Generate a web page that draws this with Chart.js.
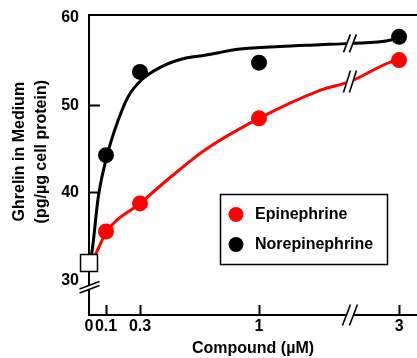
<!DOCTYPE html>
<html><head><meta charset="utf-8">
<script src="https://cdn.jsdelivr.net/npm/chart.js@4/dist/chart.umd.min.js"></script>
<style>html,body{margin:0;padding:0;background:#fff}</style>
</head><body>
<canvas id="c" width="417" height="358"></canvas>
<script>
// ---- data ----
const doses = [0.1, 0.3, 1, 3];                 // µM
const epinephrine = [35.6, 38.8, 48.5, 55.15];
const norepinephrine = [44.3, 53.8, 54.85, 57.8];
const baselineDose = [0];
const baselineValue = [32.0];
const xTickValues = [0, 0.1, 0.3, 1, 3];
const yTickValues = [30, 40, 50, 60];
// fitted curves
const epiFitX = [0, 0.035, 0.104, 0.3, 0.486, 0.682, 1, 1.359, 1.535, 2.8, 3];
const epiFitY = [32.0, 32.9, 35.6, 38.8, 41.9, 44.9, 48.5, 51.7, 52.7, 55.0, 55.15];
const norFitX = [0, 0.016, 0.055, 0.104, 0.172, 0.231, 0.31, 0.428, 0.565, 0.682, 0.888, 1.124, 1.359, 1.535, 2.72, 3];
const norFitY = [32.0, 33.1, 39.6, 44.1, 48.3, 51.0, 52.9, 54.4, 55.35, 55.7, 56.4, 56.7, 56.9, 57.05, 57.4, 57.8];

// ---- broken x axis mapping ----
const X_BREAK = 1.535;
const X_AFTER = 0.1973;
function axisPos(x){ return x <= X_BREAK ? x : X_BREAK + (x - X_BREAK) * X_AFTER; }
const Y_BREAK = 29.25;

const FONT = "'Liberation Sans', Arial, sans-serif";
const RED = '#ff0000';
const pts = (xs, ys) => xs.map((x, i) => ({x: axisPos(x), y: ys[i]}));
const noPad = s => { s.paddingTop = 0; s.paddingBottom = 0; s.paddingLeft = 0; s.paddingRight = 0; };

const breakPlugin = {
  id: 'breaks',
  afterDatasetsDraw(chart) {
    const ctx = chart.ctx, xs = chart.scales.x, ys = chart.scales.y;
    ctx.save();
    ctx.lineCap = 'butt';
    // y axis break
    const x0 = chart.chartArea.left, yc = ys.getPixelForValue(Y_BREAK);
    ctx.fillStyle = '#fff';
    ctx.fillRect(x0 - 2, yc - 2, 4, 4);
    ctx.strokeStyle = '#000'; ctx.lineWidth = 1.6;
    [-2, 2].forEach(k => {
      ctx.beginPath();
      ctx.moveTo(x0 - 9.5, yc + k + 3.75);
      ctx.lineTo(x0 + 10.5, yc + k - 3.75);
      ctx.stroke();
    });
    // x axis break
    const xc = xs.getPixelForValue(X_BREAK), yb = chart.chartArea.bottom;
    ctx.fillStyle = '#fff';
    ctx.fillRect(xc - 3.5, yb - 2, 7, 4);
    [-3.5, 3.5].forEach(k => {
      ctx.beginPath();
      ctx.moveTo(xc + k - 4, yb + 10.5);
      ctx.lineTo(xc + k + 4, yb - 10.5);
      ctx.stroke();
    });
    // curve breaks
    const curveBreak = (yv, h) => {
      const yy = ys.getPixelForValue(yv);
      const w = 3.5, s = 3;
      ctx.fillStyle = '#fff';
      ctx.beginPath();
      ctx.moveTo(xc - s - w * 0.6, yy + h * 0.6);
      ctx.lineTo(xc - s + w * 0.6, yy - h * 0.6);
      ctx.lineTo(xc + s + w * 0.6, yy - h * 0.6);
      ctx.lineTo(xc + s - w * 0.6, yy + h * 0.6);
      ctx.closePath(); ctx.fill();
      ctx.strokeStyle = '#000'; ctx.lineWidth = 1.6;
      [-s, s].forEach(k => {
        ctx.beginPath();
        ctx.moveTo(xc + k - w, yy + h);
        ctx.lineTo(xc + k + w, yy - h);
        ctx.stroke();
      });
    };
    curveBreak(norFitY[norFitX.indexOf(X_BREAK)], 9);
    curveBreak(epiFitY[epiFitX.indexOf(X_BREAK)], 11);
    // legend box
    const bx = 220, by = 194, bw = 168, bh = 71;
    ctx.fillStyle = '#fff'; ctx.fillRect(bx, by, bw, bh);
    ctx.strokeStyle = '#000'; ctx.lineWidth = 1.5;
    ctx.strokeRect(bx + 0.5, by + 0.5, bw - 1, bh - 1);
    const items = [chart.data.datasets[1], chart.data.datasets[2]];
    ctx.font = "bold 16px " + FONT;
    ctx.textBaseline = 'middle'; ctx.textAlign = 'left';
    items.forEach((d, i) => {
      const cy = by + 20.5 + i * 30;
      ctx.fillStyle = d.backgroundColor;
      ctx.beginPath(); ctx.arc(bx + 16, cy, 7.5, 0, Math.PI * 2); ctx.fill();
      ctx.fillStyle = '#000';
      ctx.fillText(d.label, bx + 35, cy + 0.5);
    });
    ctx.restore();
  }
};

new Chart(document.getElementById('c'), {
  type: 'scatter',
  data: {
    datasets: [
      {label: 'Control', data: pts(baselineDose, baselineValue), pointStyle: 'rect', pointRadius: 12,
       backgroundColor: '#fff', borderColor: '#000', borderWidth: 1.5, showLine: false, clip: false},
      {label: 'Epinephrine', data: pts(doses, epinephrine), pointRadius: 8, pointBorderWidth: 0,
       backgroundColor: RED, borderColor: RED, showLine: false, clip: false},
      {label: 'Norepinephrine', data: pts(doses, norepinephrine), pointRadius: 8, pointBorderWidth: 0,
       backgroundColor: '#000', borderColor: '#000', showLine: false, clip: false},
      {label: 'Epinephrine fit', data: pts(epiFitX, epiFitY), showLine: true, pointRadius: 0,
       borderColor: RED, borderWidth: 3, cubicInterpolationMode: 'monotone', clip: false},
      {label: 'Norepinephrine fit', data: pts(norFitX, norFitY), showLine: true, pointRadius: 0,
       borderColor: '#000', borderWidth: 3, cubicInterpolationMode: 'monotone', clip: false}
    ]
  },
  options: {
    responsive: false, animation: false, devicePixelRatio: 1,
    layout: {autoPadding: false, padding: {top: 15, left: 0, right: 0, bottom: 0}},
    plugins: {legend: {display: false}, tooltip: {enabled: false}},
    scales: {
      x: {
        type: 'linear', position: 'bottom', min: 0, max: 1.9294,
        afterFit(s) { s.height = 43; noPad(s); },
        afterBuildTicks(s) { s.ticks = xTickValues.map(v => ({value: axisPos(v)})); },
        ticks: {color: '#000', padding: 12, maxRotation: 0, autoSkip: false,
          font: {family: FONT, weight: 'bold', size: 16},
          callback: (v, i) => String(xTickValues[i])},
        grid: {drawOnChartArea: false, tickLength: -10, tickWidth: 2,
          tickColor: c => (c.index === 0 ? 'rgba(0,0,0,0)' : '#000')},
        border: {color: '#000', width: 2},
        title: {display: true, text: 'Compound (µM)', color: '#000', padding: {top: 0, bottom: 0},
          font: {family: FONT, weight: 'bold', size: 16}}
      },
      x2: {
        type: 'linear', position: 'top', min: 0, max: 1,
        afterFit(s) { s.height = 0; noPad(s); },
        ticks: {display: false}, grid: {display: false},
        border: {color: '#000', width: 2}
      },
      y: {
        type: 'linear', position: 'left', min: 26.08, max: 60.285,
        afterFit(s) { s.width = 89; noPad(s); },
        afterBuildTicks(s) { s.ticks = yTickValues.map(v => ({value: v})); },
        ticks: {color: '#000', padding: 21, font: {family: FONT, weight: 'bold', size: 16},
          callback: v => String(v)},
        grid: {drawOnChartArea: false, tickLength: -11, tickWidth: 2,
          tickColor: c => (c.tick && (c.tick.value === 30 || c.tick.value === 60)) ? 'rgba(0,0,0,0)' : '#000'},
        border: {color: '#000', width: 2},
        title: {display: true, color: '#000', padding: {top: 9, bottom: 0},
          text: ['      Ghrelin in Medium', '      (pg/µg cell protein)'],
          font: {family: FONT, weight: 'bold', size: 16, lineHeight: 1.35}}
      }
    }
  },
  plugins: [breakPlugin]
});
</script>
</body></html>
